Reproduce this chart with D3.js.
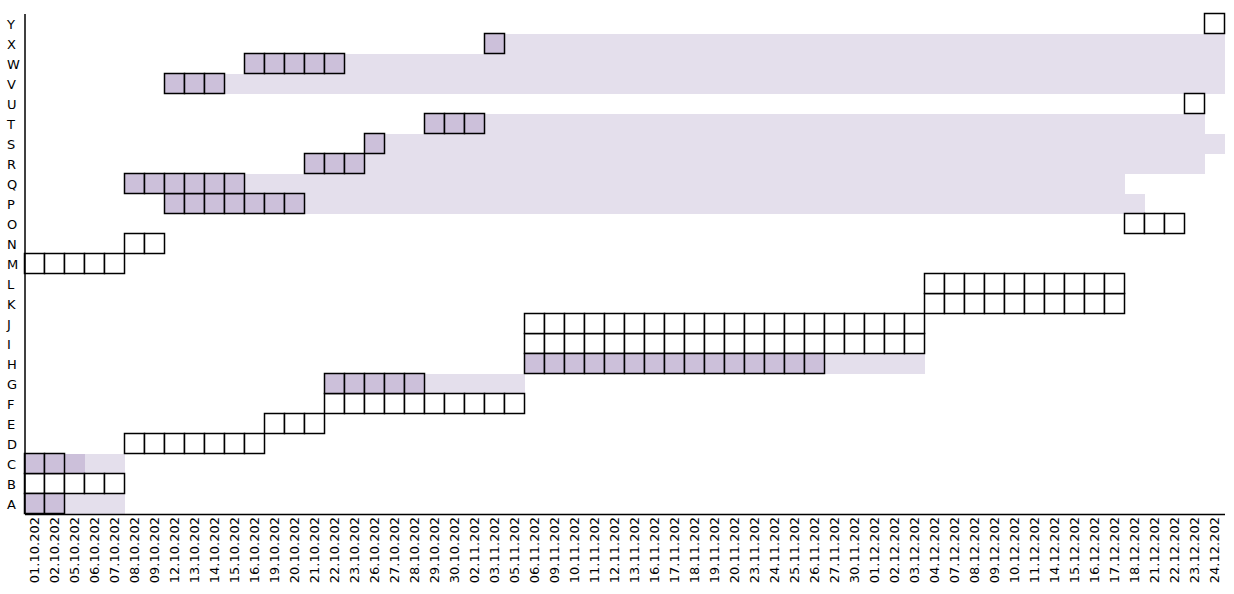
<!doctype html>
<html lang="">
    <head>
        <meta charset="utf-8">
        <title>Gantt</title>
        <script src="https://d3js.org/d3.v7.min.js"></script>
        <style>
            body { margin: 0; background: #fff; }
            svg text { font-family: "DejaVu Sans", Verdana, sans-serif; font-size: 13px; fill: #000; }
        </style>
    </head>
    <body>
        <div id="chart"></div>
    </body>
    <script type="text/javascript">

     const rows = ['A', 'B', 'C', 'D', 'E', 'F', 'G', 'H', 'I', 'J', 'K', 'L', 'M',
                   'N', 'O', 'P', 'Q', 'R', 'S', 'T', 'U', 'V', 'W', 'X', 'Y']

     const dates = ['01.10.202', '02.10.202', '05.10.202', '06.10.202', '07.10.202',
                    '08.10.202', '09.10.202', '12.10.202', '13.10.202', '14.10.202',
                    '15.10.202', '16.10.202', '19.10.202', '20.10.202', '21.10.202',
                    '22.10.202', '23.10.202', '26.10.202', '27.10.202', '28.10.202',
                    '29.10.202', '30.10.202', '02.11.202', '03.11.202', '05.11.202',
                    '06.11.202', '09.11.202', '10.11.202', '11.11.202', '12.11.202',
                    '13.11.202', '16.11.202', '17.11.202', '18.11.202', '19.11.202',
                    '20.11.202', '23.11.202', '24.11.202', '25.11.202', '26.11.202',
                    '27.11.202', '30.11.202', '01.12.202', '02.12.202', '03.12.202',
                    '04.12.202', '07.12.202', '08.12.202', '09.12.202', '10.12.202',
                    '11.12.202', '14.12.202', '15.12.202', '16.12.202', '17.12.202',
                    '18.12.202', '21.12.202', '22.12.202', '23.12.202', '24.12.202']

     // [row, first date index, last date index]
     const planned = [
         ['A', 2, 4], ['C', 3, 4], ['G', 20, 24], ['H', 40, 44],
         ['P', 14, 55], ['Q', 11, 54], ['R', 17, 58], ['S', 18, 59],
         ['T', 23, 58], ['V', 10, 59], ['W', 16, 59], ['X', 24, 59]
     ]
     const partial = [['C', 2, 2]]
     const done = [
         ['A', 0, 1], ['C', 0, 1], ['G', 15, 19], ['H', 25, 39],
         ['P', 7, 13], ['Q', 5, 10], ['R', 14, 16], ['S', 17, 17],
         ['T', 20, 22], ['V', 7, 9], ['W', 11, 15], ['X', 23, 23]
     ]
     const open = [
         ['B', 0, 4], ['D', 5, 11], ['E', 12, 14], ['F', 15, 24],
         ['I', 25, 44], ['J', 25, 44], ['K', 45, 54], ['L', 45, 54],
         ['M', 0, 4], ['N', 5, 6], ['O', 55, 57], ['U', 58, 58], ['Y', 59, 59]
     ]

     const width = 1234
     const height = 594
     const m = { left: 24.5, right: 1224.5, top: 13.5, bottom: 513.5 }

     const lightColor = '#e4dfec'
     const darkColor = '#ccc0da'

     const svg = d3.select('#chart').append('svg')
                   .attr('width', width).attr('height', height)

     const x = d3.scaleBand().domain(dates).range([m.left, m.right])
     const y = d3.scaleBand().domain(rows.slice().reverse()).range([m.top, m.bottom])

     // split spans into single cells
     const cells = spans => spans.flatMap(([r, a, b]) =>
         d3.range(a, b + 1).map(i => ({ row: r, date: dates[i] })))

     const span = (g, data, fill) => g.selectAll('rect')
         .data(data)
         .join('rect')
         .attr('x', d => x(dates[d[1]]))
         .attr('y', d => y(d[0]))
         .attr('width', d => x(dates[d[2]]) + x.bandwidth() - x(dates[d[1]]))
         .attr('height', y.bandwidth())
         .attr('fill', fill)
         .attr('shape-rendering', 'crispEdges')

     span(svg.append('g'), planned, lightColor)
     span(svg.append('g'), partial, darkColor)

     const boxes = (data, fill) => svg.append('g').selectAll('rect')
         .data(cells(data))
         .join('rect')
         .attr('x', d => x(d.date))
         .attr('y', d => y(d.row))
         .attr('width', x.bandwidth())
         .attr('height', y.bandwidth())
         .attr('fill', fill)
         .attr('stroke', '#000')
         .attr('stroke-width', 1.5)

     boxes(open, '#fff')
     boxes(done, darkColor)

     // axes
     const xAxis = svg.append('g')
                      .attr('transform', `translate(0,${m.bottom + 0.5})`)
                      .call(d3.axisBottom(x).tickSize(0).tickSizeOuter(0))
     xAxis.select('.domain').attr('stroke', '#000').attr('stroke-width', 1.5)
     xAxis.selectAll('text')
          .attr('transform', 'rotate(-90)')
          .attr('x', -3)
          .attr('y', 0)
          .attr('dy', '0.35em')
          .attr('text-anchor', 'end')

     const yAxis = svg.append('g')
                      .attr('transform', `translate(${m.left},0)`)
                      .call(d3.axisLeft(y).tickSize(0).tickSizeOuter(0))
     yAxis.select('.domain').attr('stroke', '#000').attr('stroke-width', 1.5)
     yAxis.selectAll('text')
          .attr('x', -17.5)
          .attr('dy', '0.4em')
          .attr('text-anchor', 'start')

     svg.selectAll('.tick text').style('font-family', '"DejaVu Sans", Verdana, sans-serif')
        .style('font-size', '13px')

    </script>
</html>
